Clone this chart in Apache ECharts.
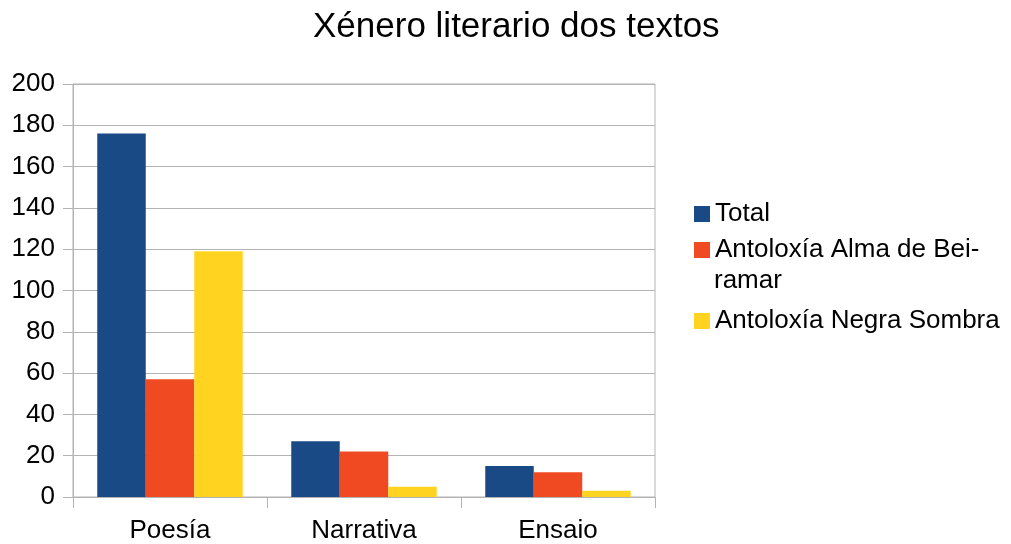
<!DOCTYPE html>
<html>
<head>
<meta charset="utf-8">
<script src="https://cdn.jsdelivr.net/npm/echarts@6/dist/echarts.min.js"></script>
<style>
  html, body { margin: 0; padding: 0; background: #fff; }
  #chart { width: 1011px; height: 544px; }
</style>
</head>
<body>
<div id="chart"></div>
<script>
const categories = ['Poesía', 'Narrativa', 'Ensaio']
const seriesNames = ['Total', 'Antoloxía Alma de Beiramar', 'Antoloxía Negra Sombra']
const totalValues = [176, 27, 15]
const almaValues = [57, 22, 12]
const negraValues = [119, 5, 3]
const colors = ['#1a4a85', '#f04a23', '#ffd320']

const gridColor = '#b3b3b3'
const font = 'Liberation Sans, Arial, sans-serif'
const legendText = { fontFamily: font, fontSize: 26, color: '#000', lineHeight: 32 }

const chart = echarts.init(document.getElementById('chart'))

const legendBase = {
  orient: 'vertical',
  left: 689,
  itemWidth: 16,
  itemHeight: 16,
  itemGap: 4,
  icon: 'rect',
  textStyle: legendText
}

const option = {
  animation: false,
  title: {
    text: 'Xénero literario dos textos',
    left: 308,
    top: 5,
    textStyle: { fontFamily: font, fontSize: 35, fontWeight: 'normal', color: '#000' }
  },
  color: colors,
  // a lenda parte en dúas: o nome longo vai en dúas liñas coma no orixinal
  legend: [
    Object.assign({}, legendBase, {
      top: 193,
      data: [seriesNames[0], seriesNames[1]],
      formatter: name => name === seriesNames[1] ? 'Antoloxía Alma de Bei-' : name
    }),
    Object.assign({}, legendBase, {
      top: 300,
      data: [seriesNames[2]]
    })
  ],
  graphic: [{
    type: 'text',
    left: 714,
    top: 265,
    style: { text: 'ramar', font: '26px ' + font, fill: '#000', lineHeight: 32 }
  }],
  grid: {
    left: 73, right: 356, top: 84, bottom: 47,
    show: true, borderColor: gridColor, borderWidth: 1
  },
  xAxis: {
    type: 'category',
    data: categories,
    axisLine: { lineStyle: { color: gridColor } },
    axisTick: { show: true, length: 11, lineStyle: { color: gridColor } },
    axisLabel: { fontFamily: font, fontSize: 26, color: '#000', margin: 21 }
  },
  yAxis: {
    type: 'value',
    min: 0, max: 200, interval: 20,
    axisLine: { show: true, lineStyle: { color: gridColor } },
    axisTick: { show: true, length: 10, lineStyle: { color: gridColor } },
    splitLine: { lineStyle: { color: gridColor } },
    axisLabel: { fontFamily: font, fontSize: 26, color: '#000', margin: 18 }
  },
  series: [
    { name: seriesNames[0], type: 'bar', data: totalValues, barGap: '0%', barCategoryGap: '25%' },
    { name: seriesNames[1], type: 'bar', data: almaValues, barGap: '0%', barCategoryGap: '25%' },
    { name: seriesNames[2], type: 'bar', data: negraValues, barGap: '0%', barCategoryGap: '25%' }
  ]
}

option && chart.setOption(option)
</script>
</body>
</html>
